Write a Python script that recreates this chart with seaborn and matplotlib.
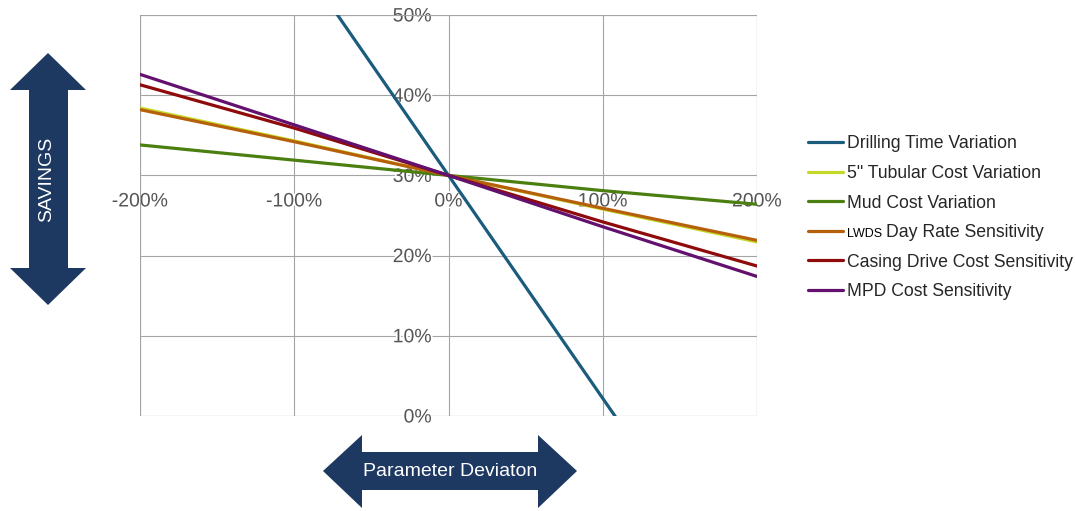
import matplotlib
matplotlib.use("Agg")
import matplotlib.pyplot as plt
import matplotlib.patheffects as pe
from matplotlib.patches import Polygon, Rectangle
from matplotlib.transforms import Affine2D
import pandas as pd
import seaborn as sns

# Savings (%) versus parameter deviation (%) for each cost driver
deviation = [-200, -100, 0, 100, 200]
drilling_time = [85.6, 57.8, 30.0, 2.2, -25.6]
tubular_cost = [38.4, 34.3, 30.0, 25.8, 21.7]
mud_cost = [33.8, 31.9, 30.0, 28.1, 26.4]
day_rate = [38.2, 34.2, 30.0, 25.9, 21.9]
casing_drive = [41.3, 35.9, 30.0, 24.2, 18.7]
mpd_cost = [42.6, 36.3, 30.0, 23.6, 17.4]

series_names = [
    "Drilling Time Variation",
    "5\" Tubular Cost Variation",
    "Mud Cost Variation",
    "Day Rate Sensitivity",
    "Casing Drive Cost Sensitivity",
    "MPD Cost Sensitivity",
]
series_values = [drilling_time, tubular_cost, mud_cost, day_rate, casing_drive, mpd_cost]
series_colors = ["#1b5c7c", "#c5d92a", "#4b7f10", "#b7600c", "#8f0b0b", "#63106f"]
day_rate_prefix = "LWDS"

x_ticks = [-200, -100, 0, 100, 200]
x_tick_labels = ["-200%", "-100%", "0%", "100%", "200%"]
y_ticks = [0, 10, 20, 30, 40, 50]
y_tick_labels = ["0%", "10%", "20%", "30%", "40%", "50%"]

rows = []
for name, vals in zip(series_names, series_values):
    for d, v in zip(deviation, vals):
        rows.append({"deviation": d, "savings": v, "series": name})
df = pd.DataFrame(rows)

sns.set_style("white")
plt.rcParams["font.family"] = ["Liberation Sans", "DejaVu Sans"]

W, H = 1075, 511
fig = plt.figure(figsize=(W / 100, H / 100), dpi=100)
ax = fig.add_axes([140 / W, 1 - 416 / H, 617 / W, 401 / H])


def px(x, y):
    return (x / W, 1 - y / H)


sns.lineplot(data=df, x="deviation", y="savings", hue="series",
             hue_order=series_names, palette=series_colors,
             linewidth=2.3, legend=False, ax=ax)

ax.set_xlim(-200, 200)
ax.set_ylim(0, 50)
ax.set_xticks(x_ticks)
ax.set_xticklabels(x_tick_labels)
ax.set_yticks(y_ticks)
ax.set_yticklabels(y_tick_labels)
ax.set_xlabel("")
ax.set_ylabel("")

grid_color = "#a4a4a4"
ax.grid(True, color=grid_color, linewidth=0.8)
ax.set_axisbelow(True)

# axes cross at 0% deviation / 30% savings
ax.spines["left"].set_position(("data", 0))
ax.spines["bottom"].set_position(("data", 30))
for s in ax.spines.values():
    s.set_visible(False)
ax.add_patch(Rectangle((0, 0), 1, 1, transform=ax.transAxes, fill=False,
                       edgecolor=grid_color, linewidth=0.8, zorder=1))

ax.tick_params(axis="both", length=0, labelsize=14, labelcolor="#555555")
ax.tick_params(axis="x", pad=13)
ax.tick_params(axis="y", pad=12)
for lbl in ax.get_xticklabels() + ax.get_yticklabels():
    lbl.set_path_effects([pe.withStroke(linewidth=2.5, foreground="white")])

# legend
leg = ax.legend(handles=ax.get_lines()[:6], labels=series_names,
                loc="upper left", bbox_to_anchor=px(808, 135.5),
                bbox_transform=fig.transFigure, frameon=False, fontsize=12.7,
                handlelength=2.0, handletextpad=0.23, labelspacing=0.71,
                borderpad=0, borderaxespad=0)
prefix_shift = 39  # pixels reserved for the small "LWDS" prefix
day_txt = leg.get_texts()[3]
day_txt.set_transform(day_txt.get_transform() + Affine2D().translate(prefix_shift, 0))

fig.canvas.draw()
renderer = fig.canvas.get_renderer()
bb = day_txt.get_window_extent(renderer)
_, _, descent = renderer.get_text_width_height_descent(
    "lp", day_txt.get_fontproperties(), ismath=False)
fig.text((bb.x0 - prefix_shift) / W, (bb.y0 + descent) / H, day_rate_prefix,
         fontsize=9, ha="left", va="baseline", color="black")

# direction arrows
navy = "#1d3962"
v_arrow = [(48, 53), (86, 90), (68, 90), (68, 268), (86, 268), (48, 305),
           (10, 268), (29, 268), (29, 90), (10, 90)]
h_arrow = [(323, 471), (362, 435), (362, 452), (538, 452), (538, 435),
           (577, 471), (538, 508), (538, 490), (362, 490), (362, 508)]
for pts in (v_arrow, h_arrow):
    fig.patches.append(Polygon([px(*p) for p in pts], closed=True,
                               transform=fig.transFigure, facecolor=navy,
                               edgecolor="none", figure=fig))

fig.text(*px(47, 179), "SAVINGS", rotation=90, color="white", fontsize=14,
         ha="center", va="center")
fig.text(*px(450, 472), "Parameter Deviaton", color="white", fontsize=14,
         ha="center", va="center")

fig.savefig("out.png", dpi=100)
